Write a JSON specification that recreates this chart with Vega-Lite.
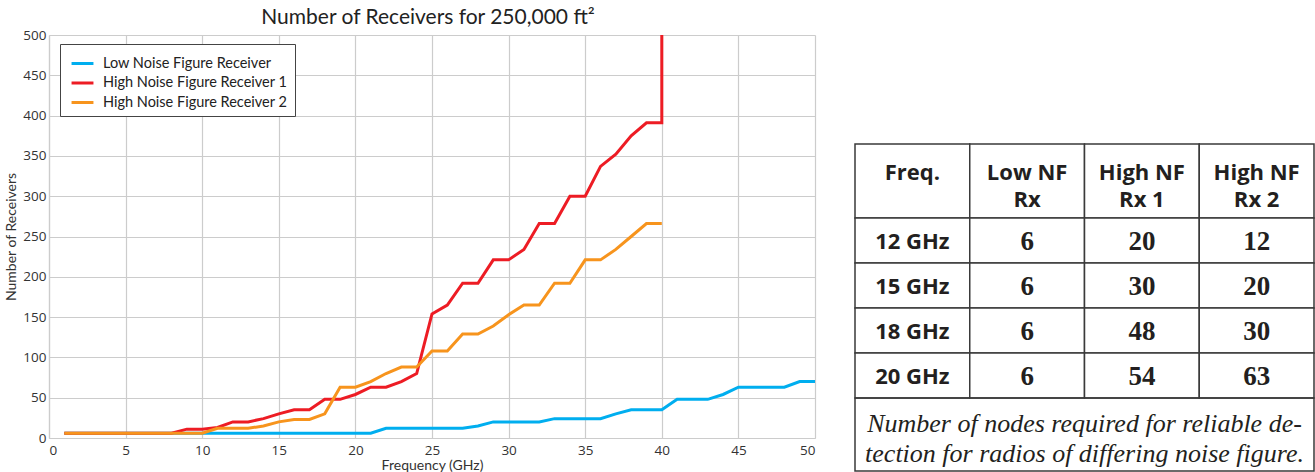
{
  "$schema": "https://vega.github.io/schema/vega-lite/v6.json",
  "padding": {"left": 4, "top": 7, "right": 0, "bottom": 0},
  "background": "white",
  "config": {
    "view": {"stroke": null},
    "font": "Lato"
  },
  "datasets": {
    "lines": [
      {"series": "Low Noise Figure Receiver", "freq": 1, "receivers": 6, "i": 1},
      {"series": "Low Noise Figure Receiver", "freq": 2, "receivers": 6, "i": 2},
      {"series": "Low Noise Figure Receiver", "freq": 3, "receivers": 6, "i": 3},
      {"series": "Low Noise Figure Receiver", "freq": 4, "receivers": 6, "i": 4},
      {"series": "Low Noise Figure Receiver", "freq": 5, "receivers": 6, "i": 5},
      {"series": "Low Noise Figure Receiver", "freq": 6, "receivers": 6, "i": 6},
      {"series": "Low Noise Figure Receiver", "freq": 7, "receivers": 6, "i": 7},
      {"series": "Low Noise Figure Receiver", "freq": 8, "receivers": 6, "i": 8},
      {"series": "Low Noise Figure Receiver", "freq": 9, "receivers": 6, "i": 9},
      {"series": "Low Noise Figure Receiver", "freq": 10, "receivers": 6, "i": 10},
      {"series": "Low Noise Figure Receiver", "freq": 11, "receivers": 6, "i": 11},
      {"series": "Low Noise Figure Receiver", "freq": 12, "receivers": 6, "i": 12},
      {"series": "Low Noise Figure Receiver", "freq": 13, "receivers": 6, "i": 13},
      {"series": "Low Noise Figure Receiver", "freq": 14, "receivers": 6, "i": 14},
      {"series": "Low Noise Figure Receiver", "freq": 15, "receivers": 6, "i": 15},
      {"series": "Low Noise Figure Receiver", "freq": 16, "receivers": 6, "i": 16},
      {"series": "Low Noise Figure Receiver", "freq": 17, "receivers": 6, "i": 17},
      {"series": "Low Noise Figure Receiver", "freq": 18, "receivers": 6, "i": 18},
      {"series": "Low Noise Figure Receiver", "freq": 19, "receivers": 6, "i": 19},
      {"series": "Low Noise Figure Receiver", "freq": 20, "receivers": 6, "i": 20},
      {"series": "Low Noise Figure Receiver", "freq": 21, "receivers": 6, "i": 21},
      {"series": "Low Noise Figure Receiver", "freq": 22, "receivers": 12, "i": 22},
      {"series": "Low Noise Figure Receiver", "freq": 23, "receivers": 12, "i": 23},
      {"series": "Low Noise Figure Receiver", "freq": 24, "receivers": 12, "i": 24},
      {"series": "Low Noise Figure Receiver", "freq": 25, "receivers": 12, "i": 25},
      {"series": "Low Noise Figure Receiver", "freq": 26, "receivers": 12, "i": 26},
      {"series": "Low Noise Figure Receiver", "freq": 27, "receivers": 12, "i": 27},
      {"series": "Low Noise Figure Receiver", "freq": 28, "receivers": 15, "i": 28},
      {"series": "Low Noise Figure Receiver", "freq": 29, "receivers": 20, "i": 29},
      {"series": "Low Noise Figure Receiver", "freq": 30, "receivers": 20, "i": 30},
      {"series": "Low Noise Figure Receiver", "freq": 31, "receivers": 20, "i": 31},
      {"series": "Low Noise Figure Receiver", "freq": 32, "receivers": 20, "i": 32},
      {"series": "Low Noise Figure Receiver", "freq": 33, "receivers": 24, "i": 33},
      {"series": "Low Noise Figure Receiver", "freq": 34, "receivers": 24, "i": 34},
      {"series": "Low Noise Figure Receiver", "freq": 35, "receivers": 24, "i": 35},
      {"series": "Low Noise Figure Receiver", "freq": 36, "receivers": 24, "i": 36},
      {"series": "Low Noise Figure Receiver", "freq": 37, "receivers": 30, "i": 37},
      {"series": "Low Noise Figure Receiver", "freq": 38, "receivers": 35, "i": 38},
      {"series": "Low Noise Figure Receiver", "freq": 39, "receivers": 35, "i": 39},
      {"series": "Low Noise Figure Receiver", "freq": 40, "receivers": 35, "i": 40},
      {"series": "Low Noise Figure Receiver", "freq": 41, "receivers": 48, "i": 41},
      {"series": "Low Noise Figure Receiver", "freq": 42, "receivers": 48, "i": 42},
      {"series": "Low Noise Figure Receiver", "freq": 43, "receivers": 48, "i": 43},
      {"series": "Low Noise Figure Receiver", "freq": 44, "receivers": 54, "i": 44},
      {"series": "Low Noise Figure Receiver", "freq": 45, "receivers": 63, "i": 45},
      {"series": "Low Noise Figure Receiver", "freq": 46, "receivers": 63, "i": 46},
      {"series": "Low Noise Figure Receiver", "freq": 47, "receivers": 63, "i": 47},
      {"series": "Low Noise Figure Receiver", "freq": 48, "receivers": 63, "i": 48},
      {"series": "Low Noise Figure Receiver", "freq": 49, "receivers": 70, "i": 49},
      {"series": "Low Noise Figure Receiver", "freq": 50, "receivers": 70, "i": 50},

      {"series": "High Noise Figure Receiver 1", "freq": 1, "receivers": 6, "i": 1},
      {"series": "High Noise Figure Receiver 1", "freq": 2, "receivers": 6, "i": 2},
      {"series": "High Noise Figure Receiver 1", "freq": 3, "receivers": 6, "i": 3},
      {"series": "High Noise Figure Receiver 1", "freq": 4, "receivers": 6, "i": 4},
      {"series": "High Noise Figure Receiver 1", "freq": 5, "receivers": 6, "i": 5},
      {"series": "High Noise Figure Receiver 1", "freq": 6, "receivers": 6, "i": 6},
      {"series": "High Noise Figure Receiver 1", "freq": 7, "receivers": 6, "i": 7},
      {"series": "High Noise Figure Receiver 1", "freq": 8, "receivers": 6, "i": 8},
      {"series": "High Noise Figure Receiver 1", "freq": 9, "receivers": 11, "i": 9},
      {"series": "High Noise Figure Receiver 1", "freq": 10, "receivers": 11, "i": 10},
      {"series": "High Noise Figure Receiver 1", "freq": 11, "receivers": 13, "i": 11},
      {"series": "High Noise Figure Receiver 1", "freq": 12, "receivers": 20, "i": 12},
      {"series": "High Noise Figure Receiver 1", "freq": 13, "receivers": 20, "i": 13},
      {"series": "High Noise Figure Receiver 1", "freq": 14, "receivers": 24, "i": 14},
      {"series": "High Noise Figure Receiver 1", "freq": 15, "receivers": 30, "i": 15},
      {"series": "High Noise Figure Receiver 1", "freq": 16, "receivers": 35, "i": 16},
      {"series": "High Noise Figure Receiver 1", "freq": 17, "receivers": 35, "i": 17},
      {"series": "High Noise Figure Receiver 1", "freq": 18, "receivers": 48, "i": 18},
      {"series": "High Noise Figure Receiver 1", "freq": 19, "receivers": 48, "i": 19},
      {"series": "High Noise Figure Receiver 1", "freq": 20, "receivers": 54, "i": 20},
      {"series": "High Noise Figure Receiver 1", "freq": 21, "receivers": 63, "i": 21},
      {"series": "High Noise Figure Receiver 1", "freq": 22, "receivers": 63, "i": 22},
      {"series": "High Noise Figure Receiver 1", "freq": 23, "receivers": 70, "i": 23},
      {"series": "High Noise Figure Receiver 1", "freq": 24, "receivers": 80, "i": 24},
      {"series": "High Noise Figure Receiver 1", "freq": 25, "receivers": 154, "i": 25},
      {"series": "High Noise Figure Receiver 1", "freq": 26, "receivers": 165, "i": 26},
      {"series": "High Noise Figure Receiver 1", "freq": 27, "receivers": 192, "i": 27},
      {"series": "High Noise Figure Receiver 1", "freq": 28, "receivers": 192, "i": 28},
      {"series": "High Noise Figure Receiver 1", "freq": 29, "receivers": 221, "i": 29},
      {"series": "High Noise Figure Receiver 1", "freq": 30, "receivers": 221, "i": 30},
      {"series": "High Noise Figure Receiver 1", "freq": 31, "receivers": 234, "i": 31},
      {"series": "High Noise Figure Receiver 1", "freq": 32, "receivers": 266, "i": 32},
      {"series": "High Noise Figure Receiver 1", "freq": 33, "receivers": 266, "i": 33},
      {"series": "High Noise Figure Receiver 1", "freq": 34, "receivers": 300, "i": 34},
      {"series": "High Noise Figure Receiver 1", "freq": 35, "receivers": 300, "i": 35},
      {"series": "High Noise Figure Receiver 1", "freq": 36, "receivers": 337, "i": 36},
      {"series": "High Noise Figure Receiver 1", "freq": 37, "receivers": 352, "i": 37},
      {"series": "High Noise Figure Receiver 1", "freq": 38, "receivers": 375, "i": 38},
      {"series": "High Noise Figure Receiver 1", "freq": 39, "receivers": 391, "i": 39},
      {"series": "High Noise Figure Receiver 1", "freq": 40, "receivers": 391, "i": 40},
      {"series": "High Noise Figure Receiver 1", "freq": 40, "receivers": 500, "i": 41},

      {"series": "High Noise Figure Receiver 2", "freq": 1, "receivers": 6, "i": 1},
      {"series": "High Noise Figure Receiver 2", "freq": 2, "receivers": 6, "i": 2},
      {"series": "High Noise Figure Receiver 2", "freq": 3, "receivers": 6, "i": 3},
      {"series": "High Noise Figure Receiver 2", "freq": 4, "receivers": 6, "i": 4},
      {"series": "High Noise Figure Receiver 2", "freq": 5, "receivers": 6, "i": 5},
      {"series": "High Noise Figure Receiver 2", "freq": 6, "receivers": 6, "i": 6},
      {"series": "High Noise Figure Receiver 2", "freq": 7, "receivers": 6, "i": 7},
      {"series": "High Noise Figure Receiver 2", "freq": 8, "receivers": 6, "i": 8},
      {"series": "High Noise Figure Receiver 2", "freq": 9, "receivers": 6, "i": 9},
      {"series": "High Noise Figure Receiver 2", "freq": 10, "receivers": 6, "i": 10},
      {"series": "High Noise Figure Receiver 2", "freq": 11, "receivers": 12, "i": 11},
      {"series": "High Noise Figure Receiver 2", "freq": 12, "receivers": 12, "i": 12},
      {"series": "High Noise Figure Receiver 2", "freq": 13, "receivers": 12, "i": 13},
      {"series": "High Noise Figure Receiver 2", "freq": 14, "receivers": 15, "i": 14},
      {"series": "High Noise Figure Receiver 2", "freq": 15, "receivers": 20, "i": 15},
      {"series": "High Noise Figure Receiver 2", "freq": 16, "receivers": 23, "i": 16},
      {"series": "High Noise Figure Receiver 2", "freq": 17, "receivers": 23, "i": 17},
      {"series": "High Noise Figure Receiver 2", "freq": 18, "receivers": 30, "i": 18},
      {"series": "High Noise Figure Receiver 2", "freq": 19, "receivers": 63, "i": 19},
      {"series": "High Noise Figure Receiver 2", "freq": 20, "receivers": 63, "i": 20},
      {"series": "High Noise Figure Receiver 2", "freq": 21, "receivers": 70, "i": 21},
      {"series": "High Noise Figure Receiver 2", "freq": 22, "receivers": 80, "i": 22},
      {"series": "High Noise Figure Receiver 2", "freq": 23, "receivers": 88, "i": 23},
      {"series": "High Noise Figure Receiver 2", "freq": 24, "receivers": 88, "i": 24},
      {"series": "High Noise Figure Receiver 2", "freq": 25, "receivers": 108, "i": 25},
      {"series": "High Noise Figure Receiver 2", "freq": 26, "receivers": 108, "i": 26},
      {"series": "High Noise Figure Receiver 2", "freq": 27, "receivers": 129, "i": 27},
      {"series": "High Noise Figure Receiver 2", "freq": 28, "receivers": 129, "i": 28},
      {"series": "High Noise Figure Receiver 2", "freq": 29, "receivers": 139, "i": 29},
      {"series": "High Noise Figure Receiver 2", "freq": 30, "receivers": 153, "i": 30},
      {"series": "High Noise Figure Receiver 2", "freq": 31, "receivers": 165, "i": 31},
      {"series": "High Noise Figure Receiver 2", "freq": 32, "receivers": 165, "i": 32},
      {"series": "High Noise Figure Receiver 2", "freq": 33, "receivers": 192, "i": 33},
      {"series": "High Noise Figure Receiver 2", "freq": 34, "receivers": 192, "i": 34},
      {"series": "High Noise Figure Receiver 2", "freq": 35, "receivers": 221, "i": 35},
      {"series": "High Noise Figure Receiver 2", "freq": 36, "receivers": 221, "i": 36},
      {"series": "High Noise Figure Receiver 2", "freq": 37, "receivers": 234, "i": 37},
      {"series": "High Noise Figure Receiver 2", "freq": 38, "receivers": 250, "i": 38},
      {"series": "High Noise Figure Receiver 2", "freq": 39, "receivers": 266, "i": 39},
      {"series": "High Noise Figure Receiver 2", "freq": 40, "receivers": 266, "i": 40}
    ],
    "header": [
      {"col": "Freq.", "label": "Freq.\n"},
      {"col": "Low NF Rx", "label": "Low NF\nRx"},
      {"col": "High NF Rx 1", "label": "High NF\nRx 1"},
      {"col": "High NF Rx 2", "label": "High NF\nRx 2"}
    ],
    "body": [
      {"row": "12 GHz", "col": "Freq.", "text": "12 GHz"},
      {"row": "12 GHz", "col": "Low NF Rx", "text": "6"},
      {"row": "12 GHz", "col": "High NF Rx 1", "text": "20"},
      {"row": "12 GHz", "col": "High NF Rx 2", "text": "12"},
      {"row": "15 GHz", "col": "Freq.", "text": "15 GHz"},
      {"row": "15 GHz", "col": "Low NF Rx", "text": "6"},
      {"row": "15 GHz", "col": "High NF Rx 1", "text": "30"},
      {"row": "15 GHz", "col": "High NF Rx 2", "text": "20"},
      {"row": "18 GHz", "col": "Freq.", "text": "18 GHz"},
      {"row": "18 GHz", "col": "Low NF Rx", "text": "6"},
      {"row": "18 GHz", "col": "High NF Rx 1", "text": "48"},
      {"row": "18 GHz", "col": "High NF Rx 2", "text": "30"},
      {"row": "20 GHz", "col": "Freq.", "text": "20 GHz"},
      {"row": "20 GHz", "col": "Low NF Rx", "text": "6"},
      {"row": "20 GHz", "col": "High NF Rx 1", "text": "54"},
      {"row": "20 GHz", "col": "High NF Rx 2", "text": "63"}
    ],
    "caption": [
      {"caption": "Number of nodes required for reliable de-\ntection for radios of differing noise figure."}
    ]
  },
  "hconcat": [
    {
      "width": 766,
      "height": 403,
      "title": {
        "text": "Number of Receivers for 250,000 ft²",
        "font": "Lato",
        "fontSize": 21,
        "fontWeight": "normal",
        "color": "#222222",
        "offset": 0,
        "dx": -4
      },
      "data": {"name": "lines"},
      "mark": {"type": "line", "strokeWidth": 3, "clip": true},
      "encoding": {
        "x": {
          "field": "freq",
          "type": "quantitative",
          "scale": {"domain": [0, 50], "nice": false},
          "axis": {
            "title": "Frequency (GHz)",
            "values": [0, 5, 10, 15, 20, 25, 30, 35, 40, 45, 50],
            "grid": true,
            "gridColor": "#cccccc",
            "gridWidth": 1.2,
            "domainColor": "#cccccc",
            "domainWidth": 1.2,
            "ticks": false,
            "tickSize": 0,
            "labelPadding": 5,
            "labelFont": "Open Sans",
            "labelFontSize": 13.5,
            "labelColor": "#333333",
            "titleFont": "Lato",
            "titleFontSize": 14,
            "titleFontWeight": "normal",
            "titleColor": "#333333",
            "titlePadding": 2
          }
        },
        "y": {
          "field": "receivers",
          "type": "quantitative",
          "scale": {"domain": [0, 500], "nice": false},
          "axis": {
            "title": "Number of Receivers",
            "values": [0, 50, 100, 150, 200, 250, 300, 350, 400, 450, 500],
            "grid": true,
            "gridColor": "#cccccc",
            "gridWidth": 1.2,
            "domainColor": "#cccccc",
            "domainWidth": 1.2,
            "ticks": false,
            "tickSize": 0,
            "labelPadding": 3,
            "labelFont": "Open Sans",
            "labelFontSize": 13.5,
            "labelColor": "#333333",
            "titleFont": "Lato",
            "titleFontSize": 14,
            "titleFontWeight": "normal",
            "titleColor": "#333333",
            "titlePadding": 4
          }
        },
        "color": {
          "field": "series",
          "type": "nominal",
          "scale": {
            "domain": ["Low Noise Figure Receiver", "High Noise Figure Receiver 1", "High Noise Figure Receiver 2"],
            "range": ["#00AEEF", "#ED1C24", "#F7941D"]
          },
          "legend": {
            "title": null,
            "orient": "none",
            "legendX": 11,
            "legendY": 9,
            "strokeColor": "#444444",
            "fillColor": "white",
            "padding": 7,
            "symbolType": "stroke",
            "symbolStrokeWidth": 3,
            "symbolSize": 480,
            "symbolOffset": 3,
            "labelFont": "Lato",
            "labelFontSize": 14.5,
            "labelLimit": 0,
            "labelColor": "#222222",
            "labelOffset": 8,
            "rowPadding": 0.5
          }
        },
        "order": {"field": "i", "type": "quantitative"}
      }
    },
    {
      "spacing": 0,
      "bounds": "flush",
      "vconcat": [
        {
          "width": 459,
          "height": 109,
          "data": {"values": []},
          "mark": "point"
        },
        {
          "width": 459,
          "height": 74,
          "data": {"name": "header"},
          "encoding": {
            "x": {
              "field": "col",
              "type": "nominal",
              "sort": null,
              "scale": {"paddingInner": 0, "paddingOuter": 0},
              "axis": null
            }
          },
          "layer": [
            {"mark": {"type": "rect", "fill": "white", "stroke": "#3a3a3a", "strokeWidth": 1.5}},
            {
              "mark": {"type": "text", "font": "Open Sans", "fontWeight": "bold", "fontSize": 22, "color": "#231f20", "lineBreak": "\n", "lineHeight": 27, "baseline": "alphabetic", "dy": -1},
              "encoding": {"text": {"field": "label"}}
            }
          ]
        },
        {
          "width": 459,
          "height": 180,
          "data": {"name": "body"},
          "encoding": {
            "x": {
              "field": "col",
              "type": "nominal",
              "sort": null,
              "scale": {"paddingInner": 0, "paddingOuter": 0},
              "axis": null
            },
            "y": {
              "field": "row",
              "type": "nominal",
              "sort": null,
              "scale": {"paddingInner": 0, "paddingOuter": 0},
              "axis": null
            }
          },
          "layer": [
            {"mark": {"type": "rect", "fill": "white", "stroke": "#3a3a3a", "strokeWidth": 1.5}},
            {
              "transform": [{"filter": "datum.col === 'Freq.'"}],
              "mark": {"type": "text", "font": "Open Sans", "fontWeight": "bold", "fontSize": 22, "color": "#231f20", "dy": 1},
              "encoding": {"text": {"field": "text"}}
            },
            {
              "transform": [{"filter": "datum.col !== 'Freq.'"}],
              "mark": {"type": "text", "font": "Liberation Serif", "fontWeight": "bold", "fontSize": 27, "color": "#231f20", "dy": 1},
              "encoding": {"text": {"field": "text"}}
            }
          ]
        },
        {
          "width": 459,
          "height": 73,
          "data": {"name": "caption"},
          "view": {"stroke": "#3a3a3a", "strokeWidth": 1.5},
          "mark": {"type": "text", "font": "Liberation Serif", "fontStyle": "italic", "fontSize": 26, "color": "#231f20", "lineBreak": "\n", "lineHeight": 30, "baseline": "alphabetic", "dy": -3},
          "encoding": {"text": {"field": "caption"}}
        }
      ]
    }
  ],
  "spacing": 39
}
